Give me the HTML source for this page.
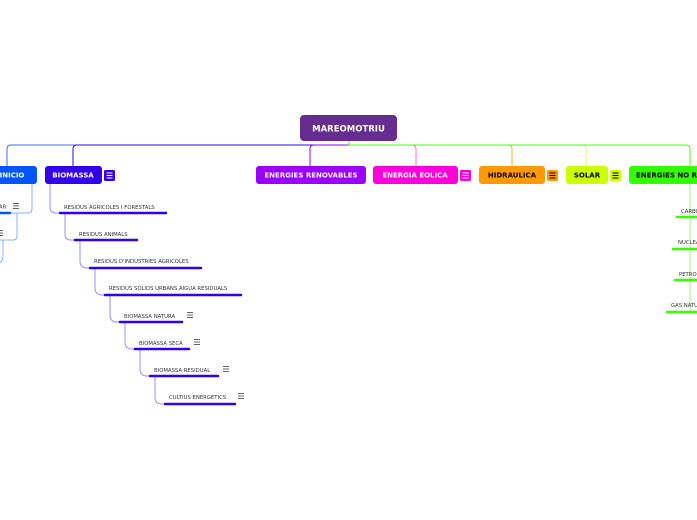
<!DOCTYPE html>
<html><head><meta charset="utf-8"><style>
html,body{margin:0;padding:0;background:#fff;width:697px;height:520px;overflow:hidden}
svg{display:block}
.n{font-family:"DejaVu Sans","Liberation Sans",sans-serif;font-weight:bold;font-size:7px}
.c{font-family:"DejaVu Sans","Liberation Sans",sans-serif;font-size:5.3px;fill:#333}
.ic{stroke-width:0.9}
</style></head><body>
<svg width="697" height="520" viewBox="0 0 697 520" xmlns="http://www.w3.org/2000/svg">
<g fill="none" stroke-width="1">
<path d="M349 141 V145 H11 Q7 145 7 149 V166" stroke="#3a6cff"/>
<path d="M349 145 H77 Q73 145 73 149 V166" stroke="#3300ff"/>
<path d="M349 145 H314 Q310 145 310 149 V166" stroke="#9900ff"/>
<path d="M349 145 H412 Q416 145 416 149 V166" stroke="#ff66ee"/>
<path d="M349 145 H508 Q512 145 512 149 V166" stroke="#ffaa33"/>
<path d="M349 145 H582 Q586 145 586 149 V166" stroke="#ddff55"/>
<path d="M349 141 V145 H686 Q690 145 690 149 V166" stroke="#44ff11"/>
</g>
<rect x="300" y="115" width="97" height="26" rx="4" fill="#662d91"/>
<text x="348.5" y="131.5" class="n" fill="#fff" text-anchor="middle" style="font-size:8.5px">MAREOMOTRIU</text>
<rect x="-10" y="166" width="47" height="18" rx="3" fill="#0055ff"/>
<text x="12" y="177.5" class="n" fill="#fff" text-anchor="middle">INICIO</text>
<rect x="45" y="166" width="57" height="18" rx="3" fill="#3300ee"/>
<text x="73" y="177.5" class="n" fill="#fff" text-anchor="middle">BIOMASSA</text>
<rect x="104" y="170" width="11" height="11" rx="1.5" fill="#3300ee"/>
<rect x="256" y="166" width="110" height="18" rx="3" fill="#9900ff"/>
<text x="311" y="177.5" class="n" fill="#fff" text-anchor="middle">ENERGIES RENOVABLES</text>
<rect x="373" y="166" width="85" height="18" rx="3" fill="#ff00dd"/>
<text x="415" y="177.5" class="n" fill="#fff" text-anchor="middle">ENERGIA EOLICA</text>
<rect x="460" y="170" width="11" height="11" rx="1.5" fill="#ff00dd"/>
<rect x="479" y="166" width="66" height="18" rx="3" fill="#ff9900"/>
<text x="512" y="177.5" class="n" fill="#000" text-anchor="middle">HIDRAULICA</text>
<rect x="547" y="170" width="11" height="11" rx="1.5" fill="#ff9900"/>
<rect x="566" y="166" width="42" height="18" rx="3" fill="#ccff00"/>
<text x="587" y="177.5" class="n" fill="#000" text-anchor="middle">SOLAR</text>
<rect x="610" y="170" width="11" height="11" rx="1.5" fill="#ccff00"/>
<rect x="629" y="166" width="80" height="18" rx="3" fill="#33ff00"/>
<text x="636" y="177.5" class="n" fill="#000">ENERGIES NO RENOVABLES</text>
<g class="ic">
<path d="M106.5 173h6M106.5 175.5h6M106.5 178h6" stroke="#fff"/>
<path d="M462.5 173h6M462.5 175.5h6M462.5 178h6" stroke="#fff"/>
<path d="M549.5 173h6M549.5 175.5h6M549.5 178h6" stroke="#000"/>
<path d="M612.5 173h6M612.5 175.5h6M612.5 178h6" stroke="#000"/>
</g>
<g fill="none" stroke="#8fb0ff" stroke-width="1">
<path d="M32 184 V209 Q32 213 28 213 H10"/>
<path d="M17 213 V236 Q17 240 13 240 H0"/>
<path d="M3 240 V256 Q3 262 -2 264"/>
</g>
<path d="M-2 213 H10" stroke="#0055ff" stroke-width="2.5" stroke-linecap="round"/>
<text x="-1" y="208.5" class="c">AR</text>
<path d="M13 203.5h6M13 206h6M13 208.5h6M-3 230.5h6M-3 233h6M-3 235.5h6" stroke="#333" stroke-width="0.8"/>
<g fill="none" stroke="#9b8cff" stroke-width="1">
<path d="M50 184 V207 Q50 213 56 213 H60"/>
<path d="M65 213 V234 Q65 240 71 240 H75"/>
<path d="M80 240 V261 Q80 268 87 268 H90"/>
<path d="M95 268 V288 Q95 295 102 295 H105"/>
<path d="M110 295 V315 Q110 322 117 322 H120"/>
<path d="M125 322 V342 Q125 349 132 349 H135"/>
<path d="M140 349 V369 Q140 376 147 376 H150"/>
<path d="M155 376 V397 Q155 404 162 404 H165"/>
</g>
<g stroke="#3300ee" stroke-width="2.5" stroke-linecap="round">
<path d="M60 213H166"/><path d="M75 240H137"/><path d="M90 268H201"/><path d="M105 295H241"/>
<path d="M120 322H182"/><path d="M135 349H189"/><path d="M150 376H218"/><path d="M165 404H235"/>
</g>
<g class="c">
<text x="64" y="209">RESIDUS AGRICOLES I FORESTALS</text>
<text x="79" y="236">RESIDUS ANIMALS</text>
<text x="94" y="263">RESIDUS D'INDUSTRIES AGRICOLES</text>
<text x="109" y="290">RESIDUS SOLIDS URBANS AIGUA RESIDUALS</text>
<text x="124" y="318">BIOMASSA NATURA</text>
<text x="139" y="345">BIOMASSA SECA</text>
<text x="154" y="372">BIOMASSA RESIDUAL</text>
<text x="169" y="399">CULTIUS ENERGETICS</text>
</g>
<path d="M187 312.5h6M187 315h6M187 317.5h6M194 339.5h6M194 342h6M194 344.5h6M223 366.5h6M223 369h6M223 371.5h6M238 393.5h6M238 396h6M238 398.5h6" stroke="#333" stroke-width="0.8"/>
<path d="M690 184 V312" stroke="#99ff77" stroke-width="1"/>
<g stroke="#33ff00" stroke-width="2.5" stroke-linecap="round">
<path d="M677 217H697"/><path d="M673 249H697"/><path d="M675 280H697"/><path d="M667 312H697"/>
</g>
<g class="c">
<text x="681" y="213">CARBO</text>
<text x="678" y="244">NUCLEAR</text>
<text x="679" y="276">PETROLI</text>
<text x="671" y="307">GAS NATURAL</text>
</g>
</svg>
</body></html>
